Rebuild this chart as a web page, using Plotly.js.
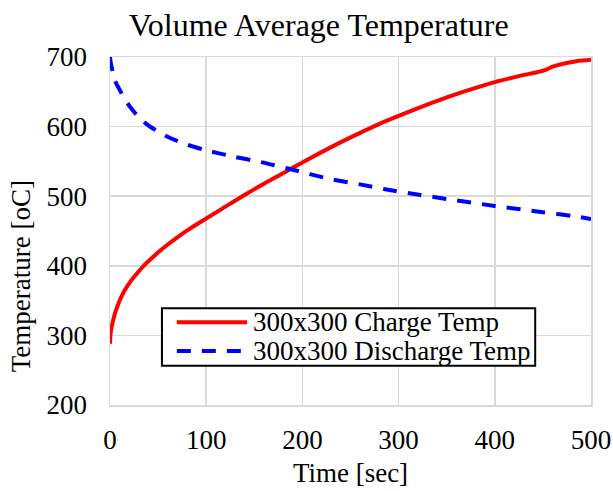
<!DOCTYPE html>
<html>
<head>
<meta charset="utf-8">
<script src="https://cdn.plot.ly/plotly-3.0.1.min.js"></script>
<style>html,body{margin:0;padding:0;background:#fff;}#chart{width:613px;height:491px;}</style>
</head>
<body>
<div id="chart"></div>
<script>
const chargeTime = [0, 0.5, 1, 2.5, 5, 8, 11, 15, 21, 28, 35, 45, 52, 59, 70, 81.5, 94, 100, 120, 139, 160, 185, 210, 239, 260, 280, 300, 321, 350, 375, 400, 425, 445, 452, 460, 470, 485, 500];
const chargeTemp = [288, 301, 307, 317, 331, 343, 353, 364, 377, 389, 400, 413, 421.5, 429.5, 441, 452, 463, 468, 485, 501, 518, 537, 556, 577, 591, 604, 615.5, 627, 642, 653.5, 664, 672.5, 678.5, 681, 686, 690, 694, 696];
const dischargeTime = [0, 1, 3, 5, 8, 10.4, 15, 20, 27.7, 39.5, 50, 62, 80, 100, 128, 157, 187, 231, 260, 286, 321, 350, 400, 450, 489, 500];
const dischargeTemp = [700, 690, 678, 667, 658, 652, 640, 630, 617, 602, 593, 584, 574, 566, 557, 549, 539, 524, 517, 510, 502, 496, 486, 477, 470, 467];
const seriesNames = ["300x300 Charge Temp", "300x300 Discharge Temp"];
const seriesColors = ["#ff0000", "#0000ff"];
const xTicks = [0, 100, 200, 300, 400, 500];
const yTicks = [200, 300, 400, 500, 600, 700];

const font = "Liberation Serif, Times New Roman, serif";
const fs = 27;
const dashPattern = "14px,11px";
const traces = [
  {x: chargeTime, y: chargeTemp, name: seriesNames[0], type: "scatter", mode: "lines",
   line: {color: seriesColors[0], width: 4, shape: "spline", smoothing: 0.8}},
  {x: dischargeTime, y: dischargeTemp, name: seriesNames[1], type: "scatter", mode: "lines",
   line: {color: seriesColors[1], width: 4, dash: dashPattern, shape: "spline", smoothing: 0.8}}
];
const axisCommon = {
  showgrid: true, gridcolor: "#d9d9d9", gridwidth: 1.5,
  showline: true, mirror: true, linecolor: "#d9d9d9", linewidth: 1.5,
  zeroline: false, ticks: "", tickfont: {family: font, size: fs, color: "#000"}
};

// Legend (boxed key in paper coordinates)
const legBox = {x0: 0.108, x1: 0.884, y0: 0.113, y1: 0.278};
const legRows = [0.238, 0.155];
const legLineX = [0.139, 0.285];
const legTextX = 0.294;
const shapes = [
  {type: "rect", xref: "paper", yref: "paper", x0: legBox.x0, x1: legBox.x1, y0: legBox.y0, y1: legBox.y1,
   fillcolor: "#fff", line: {color: "#000", width: 2}, layer: "above"}
];
const annotations = [];
seriesNames.forEach((nm, i) => {
  shapes.push({type: "line", xref: "paper", yref: "paper", x0: legLineX[0], x1: legLineX[1], y0: legRows[i], y1: legRows[i],
               line: {color: seriesColors[i], width: 4, dash: i === 1 ? dashPattern : "solid"}, layer: "above"});
  annotations.push({text: nm, xref: "paper", yref: "paper", x: legTextX, y: legRows[i], xanchor: "left", yanchor: "middle",
                    showarrow: false, font: {family: font, size: fs, color: "#000"}});
});
annotations.push({text: "Temperature [oC]", xref: "paper", yref: "paper", x: -0.185, y: 0.37,
                  xanchor: "center", yanchor: "middle", textangle: -90, showarrow: false,
                  font: {family: font, size: fs, color: "#000"}});

const layout = {
  width: 613, height: 491,
  margin: {l: 110, r: 22, t: 57, b: 86},
  paper_bgcolor: "#fff", plot_bgcolor: "#fff",
  font: {family: font, color: "#000"},
  title: {text: "Volume Average Temperature", font: {family: font, size: 32, color: "#000"},
          xref: "container", x: 0.52, xanchor: "center", yref: "container", y: 0.95, yanchor: "middle"},
  xaxis: Object.assign({}, axisCommon, {range: [0, 500], tickvals: xTicks, ticktext: xTicks.map(String),
          ticklabelstandoff: 10,
          title: {text: "Time [sec]", font: {family: font, size: fs, color: "#000"}, standoff: 9}}),
  yaxis: Object.assign({}, axisCommon, {range: [200, 700], tickvals: yTicks, ticktext: yTicks.map(String),
          ticklabelstandoff: 16}),
  showlegend: false,
  shapes: shapes,
  annotations: annotations
};
Plotly.newPlot("chart", traces, layout, {displayModeBar: false, staticPlot: true});
</script>
</body>
</html>
